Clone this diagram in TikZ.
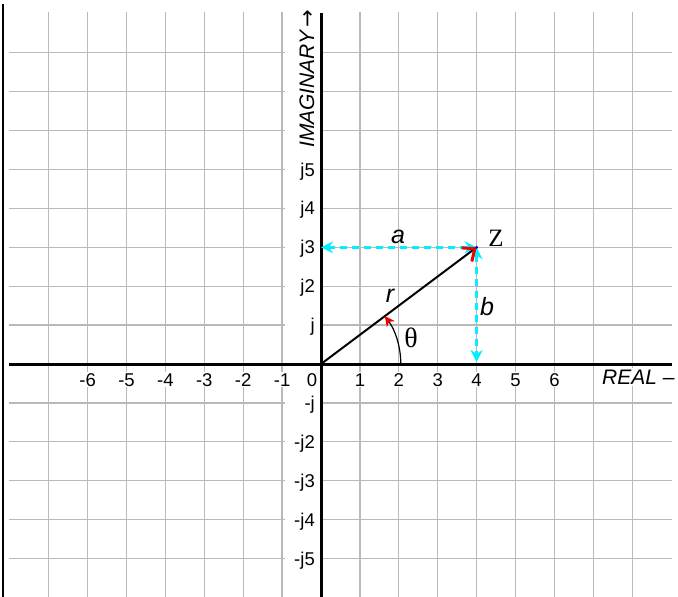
\documentclass[tikz,border=0pt]{standalone}
\usepackage{fontspec}
\setmainfont{Liberation Sans}
\newfontfamily\serifface{Liberation Serif}
\newfontfamily\arrowface{DejaVu Sans}
\usetikzlibrary{arrows.meta}
\definecolor{aqua}{RGB}{0,240,255}
\definecolor{tipred}{RGB}{240,0,0}
\definecolor{dotblue}{RGB}{0,0,220}
\definecolor{gridgray}{RGB}{185,185,185}
\begin{document}
\begin{tikzpicture}[x=1pt,y=-1pt,
  gridline/.style={draw=gridgray,line width=1.3pt},
  axisline/.style={draw=black,line width=3pt},
  numlab/.style={font=\fontsize{18.5}{18.5}\selectfont,inner sep=1pt,fill=white},
  axlab/.style={font=\fontsize{21}{21}\selectfont\itshape,inner sep=2pt,fill=white},
  varlab/.style={font=\fontsize{25}{25}\selectfont\itshape,inner sep=0pt,anchor=base},
  serlab/.style={font=\serifface\fontsize{25}{25}\selectfont,inner sep=0pt,anchor=base},
  cyanarrow/.style={draw=aqua,line width=2.5pt,dash pattern=on 7pt off 5pt,
    {Stealth[length=12pt,width=12pt,inset=4pt]}-{Stealth[length=12pt,width=12pt,inset=4pt]}},
]
\useasboundingbox (0,0) rectangle (678,597);
% grid
\foreach \k in {-7,-6,-5,-4,-3,-2,-1,1,2,3,4,5,6,7,8}
  \draw[gridline] ({321+38.9*\k},12) -- ({321+38.9*\k},597);
\foreach \k in {-5,-4,-3,-2,-1,1,2,3,4,5,6,7,8} {
  \draw[gridline] (9,{364-38.9*\k}) -- (285,{364-38.9*\k});
  \draw[gridline] (321,{364-38.9*\k}) -- (672,{364-38.9*\k});
}
% x labels
\foreach \k in {-6,-5,-4,-3,-2,-1,1,2,3,4,5,6}
  \node[numlab,anchor=base] (xl\k) at ({321+38.9*\k},386) {\k};
\node[numlab,anchor=base] (xl0) at (312,386) {0};
% y labels
\node[numlab,anchor=base east] (yl1) at (316,{364-38.9*1+6.5}) {j};
\foreach \k in {2,3,4,5}
  \node[numlab,anchor=base east] (yl\k) at (316,{364-38.9*\k+6.5}) {j\k};
\node[numlab,anchor=base east] (ylm1) at (316,{364+38.9*1+6.5}) {-j};
\foreach \k in {2,3,4,5}
  \node[numlab,anchor=base east] (ylm\k) at (316,{364+38.9*\k+6.5}) {-j\k};
% axis labels
\node[axlab,anchor=base west] (real) at (600,384) {REAL –};
\node[axlab,rotate=90,anchor=base west,fill=none,inner sep=0pt] (imag) at (314,148) {IMAGINARY\,{\arrowface\upshape →}};
% frame and axes
\coordinate (O) at (321,364);
\coordinate (Z) at ({321+4*38.9},{364-3*38.9});
\coordinate (A) at (321,{364-3*38.9});
\coordinate (B) at ({321+4*38.9},362);
\coordinate (xL) at (9,364);
\coordinate (xR) at (672,364);
\coordinate (yT) at (321,13);
\coordinate (yB) at (321,597);
\coordinate (fT) at (3,4);
\coordinate (fB) at (3,597);
\draw[draw=black,line width=2.5pt] (fT) -- (fB);
\draw[axisline] (xL) -- (xR);
\draw[axisline] (yT) -- (yB);
% cyan components
\draw[cyanarrow] (A) -- (Z);
\draw[cyanarrow] (Z) -- (B);
% vector
\draw[line width=2pt,-{Straight Barb[color=tipred,length=10pt,width=17pt,line width=3pt]}] (O) -- (Z);
\fill[dotblue] (Z) circle (1.6);
% angle
\draw[line width=1.2pt,-{Stealth[color=tipred,length=10pt,width=10pt,inset=3pt]}] (400.8,364) arc[start angle=0,end angle=-36.87,radius=79.8];
% variable labels
\node[varlab] (la) at (398,243) {a};
\node[varlab] (lb) at (487,315) {b};
\node[varlab] (lr) at (390,302) {r};
\node[serlab,font=\serifface\fontsize{28}{28}\selectfont] (lt) at (411,347) {θ};
\node[serlab] (lz) at (496,246) {Z};
\end{tikzpicture}
\end{document}
